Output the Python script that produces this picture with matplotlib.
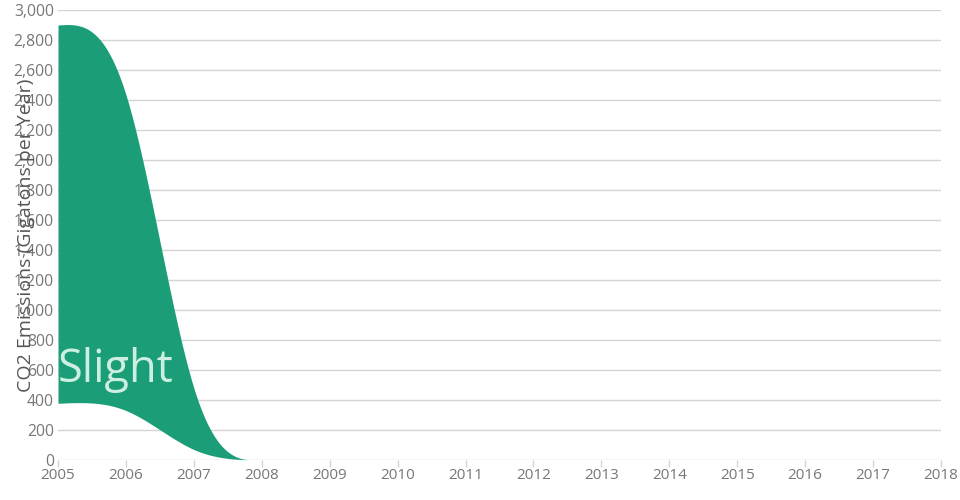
import numpy as np
import matplotlib
matplotlib.use("Agg")
import matplotlib.pyplot as plt

years = [2005, 2006, 2007, 2008]
base_values = [378, 330, 70, 0]
slight_values = [2522, 2105, 410, 0]
series_label = "Slight"
x_ticks = list(range(2005, 2019))
y_ticks = list(range(0, 3001, 200))


def natural_spline(x, y, xs):
    x = np.asarray(x, float)
    y = np.asarray(y, float)
    n = len(x)
    h = np.diff(x)
    A = np.zeros((n, n))
    b = np.zeros(n)
    A[0, 0] = 1
    A[-1, -1] = 1
    for i in range(1, n - 1):
        A[i, i - 1] = h[i - 1]
        A[i, i] = 2 * (h[i - 1] + h[i])
        A[i, i + 1] = h[i]
        b[i] = 6 * ((y[i + 1] - y[i]) / h[i] - (y[i] - y[i - 1]) / h[i - 1])
    M = np.linalg.solve(A, b)
    out = np.empty_like(xs)
    for j, xv in enumerate(xs):
        i = min(max(np.searchsorted(x, xv) - 1, 0), n - 2)
        t = xv - x[i]
        hi = h[i]
        c = (y[i + 1] - y[i]) / hi - hi * (2 * M[i] + M[i + 1]) / 6
        out[j] = y[i] + c * t + M[i] / 2 * t ** 2 + (M[i + 1] - M[i]) / (6 * hi) * t ** 3
    return out


lower = np.array(base_values, float)
upper = lower + np.array(slight_values, float)
xs = np.linspace(years[0], years[-1], 600)
lo_s = np.clip(natural_spline(years, lower, xs), 0, None)
up_s = np.clip(natural_spline(years, upper, xs), 0, None)
up_s = np.maximum(up_s, lo_s)

plt.rcParams['font.family'] = ['Open Sans', 'DejaVu Sans']

fig = plt.figure(figsize=(9.6, 5.0), dpi=100)
ax = fig.add_axes([58 / 960, 1 - 460 / 500, (941 - 58) / 960, 450 / 500])

ax.fill_between(xs, lo_s, up_s, color='#1b9e77', linewidth=0, zorder=2)

ax.set_xlim(2005, 2018)
ax.set_ylim(0, 3000)
ax.set_xticks(x_ticks)
ax.set_xticklabels([str(v) for v in x_ticks])
ax.set_yticks(y_ticks)
ax.set_yticklabels([f"{v:,}" for v in y_ticks])
ax.grid(axis='y', color='#d4d4d4', linewidth=1, zorder=0)
ax.grid(axis='x', visible=False)
for s in ax.spines.values():
    s.set_visible(False)
ax.tick_params(axis='x', length=5, width=1, color='#d4d4d4', pad=1,
               labelsize=11, labelcolor='#777777')
ax.tick_params(axis='y', length=0, pad=3, labelsize=11.3, labelcolor='#777777')
ax.set_axisbelow(True)

ax.text(2005.0, 520, series_label, fontsize=32.5, color='#cdeee2',
        ha='left', va='baseline', zorder=3)

fig.text(26 / 960, 1 - 235 / 500, "CO2 Emissions (Gigatons per Year)",
         rotation=90, ha='center', va='center', fontsize=14, color='#555555')

fig.savefig("out.png", dpi=100)
